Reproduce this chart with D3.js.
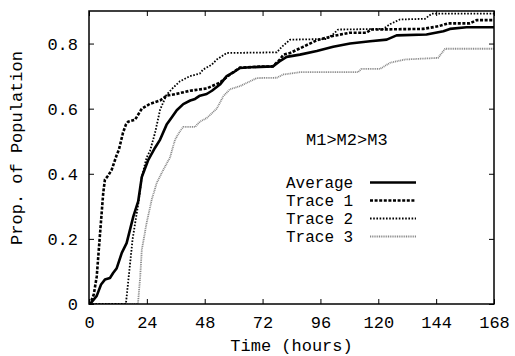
<!DOCTYPE html>
<html>
<head>
<meta charset="utf-8">
<script src="https://cdn.jsdelivr.net/npm/d3@7"></script>
<style>
  html, body { margin: 0; padding: 0; background: #fff; }
  svg text { font-family: "Liberation Mono", "Courier New", monospace; font-size: 17px; fill: #000; }
</style>
</head>
<body>
<svg id="chart" width="515" height="356"></svg>
<script>
// ---- Data (hours, proportion) ----
const xTicks = [0, 24, 48, 72, 96, 120, 144, 168];
const yTicks = [0, 0.2, 0.4, 0.6, 0.8];
const yTickLabels = ["0", "0.2", "0.4", "0.6", "0.8"];
const seriesNames = ["Average", "Trace 1", "Trace 2", "Trace 3"];
const annotation = "M1>M2>M3";

const averageData = [[0,0],[1,0.005],[3.2,0.025],[5,0.06],[6.6,0.075],[8.7,0.08],[10,0.095],[11.5,0.11],[13.6,0.157],[15.6,0.187],[18.4,0.269],[20.4,0.315],[21.9,0.39],[24.6,0.443],[27.4,0.48],[29.5,0.505],[32.2,0.551],[34,0.57],[36.4,0.595],[39.1,0.614],[42,0.625],[44,0.63],[46,0.64],[48.8,0.645],[51,0.655],[54.3,0.674],[57.1,0.7],[60,0.712],[62.6,0.725],[66.8,0.727],[76.3,0.73],[79,0.745],[82,0.759],[87.5,0.766],[94.5,0.777],[101.3,0.79],[108.3,0.8],[116.6,0.807],[123.5,0.812],[127.6,0.825],[140,0.828],[147,0.838],[149.7,0.845],[156.6,0.85],[168,0.85]];

const trace1Data = [[0,0],[0.5,0],[2,0.03],[3.2,0.084],[4.6,0.218],[5.9,0.341],[6.6,0.382],[8,0.395],[9.4,0.412],[11.5,0.458],[12.4,0.474],[14.1,0.526],[15.3,0.551],[16.2,0.56],[19.1,0.566],[21.9,0.6],[25.3,0.615],[29.5,0.625],[32.2,0.64],[36,0.645],[41.9,0.655],[48.8,0.662],[54.3,0.68],[58.5,0.705],[62.6,0.726],[70.9,0.729],[76.3,0.73],[79.2,0.751],[80.6,0.766],[83.4,0.771],[88.8,0.79],[94.5,0.81],[101,0.823],[108,0.833],[115,0.833],[117,0.843],[138.6,0.845],[144.9,0.853],[149,0.862],[158,0.862],[160.8,0.872],[168,0.872]];

const trace2Data = [[0,0],[15.3,0],[16.7,0.1],[18.1,0.2],[19.5,0.265],[20.5,0.31],[21.9,0.39],[23.9,0.45],[25.3,0.47],[27.4,0.526],[29.5,0.597],[32.2,0.643],[35,0.665],[37.7,0.684],[41.9,0.7],[46,0.708],[47.3,0.72],[50.9,0.735],[53,0.751],[57.1,0.771],[77.9,0.773],[80,0.79],[83.4,0.812],[98.6,0.814],[101.2,0.828],[103.3,0.843],[122,0.845],[125,0.86],[129,0.874],[139.4,0.876],[142.2,0.892],[168,0.892]];

const trace3Data = [[0,0],[20.3,0],[21.2,0.08],[21.9,0.166],[23.9,0.249],[26,0.32],[28.1,0.372],[30.8,0.412],[33.6,0.45],[35.7,0.505],[37.7,0.53],[39.1,0.544],[44,0.544],[46,0.56],[48.8,0.571],[53,0.6],[55.7,0.638],[58.5,0.66],[62.6,0.669],[66.8,0.684],[69.6,0.694],[77.9,0.695],[80.6,0.705],[87.5,0.712],[111.6,0.712],[113,0.722],[120.7,0.722],[124.9,0.741],[131,0.751],[144.8,0.756],[147.7,0.784],[168,0.784]];

// ---- Layout ----
const svg = d3.select("#chart");
const m = { left: 89, right: 494, top: 11, bottom: 304 };
const x = d3.scaleLinear().domain([0, 168]).range([m.left, m.right]);
const y = d3.scaleLinear().domain([0, 0.9]).range([m.bottom, m.top]);

const styles = [
  { stroke: "#000", width: 2.6, dash: null },
  { stroke: "#000", width: 2.6, dash: "3,1.6" },
  { stroke: "#000", width: 1.8, dash: "1.6,1.6" },
  { stroke: "#888", width: 1.8, dash: "1,0.8" }
];
const allData = [averageData, trace1Data, trace2Data, trace3Data];

svg.append("clipPath").attr("id", "clip").append("rect")
  .attr("x", m.left).attr("y", m.top).attr("width", m.right - m.left).attr("height", m.bottom - m.top);

const line = d3.line().x(d => x(d[0])).y(d => y(d[1]));

// draw in reverse so average is on top
[3, 2, 1, 0].forEach(i => {
  const s = styles[i];
  svg.append("path").datum(allData[i])
    .attr("clip-path", "url(#clip)")
    .attr("fill", "none")
    .attr("stroke", s.stroke)
    .attr("stroke-width", s.width)
    .attr("stroke-dasharray", s.dash)
    .attr("stroke-linejoin", "round")
    .attr("d", line);
});

// ---- Axes (ticks inside, mirrored) ----
const tickLen = 5;
const bottomAxis = d3.axisBottom(x).tickValues(xTicks).tickSizeInner(-tickLen).tickSizeOuter(0);
const gB = svg.append("g").attr("transform", `translate(0,${m.bottom})`).call(bottomAxis);
const topAxis = d3.axisTop(x).tickValues(xTicks).tickSizeInner(-tickLen).tickSizeOuter(0).tickFormat("");
const gT = svg.append("g").attr("transform", `translate(0,${m.top})`).call(topAxis);
const leftAxis = d3.axisLeft(y).tickValues(yTicks).tickSizeInner(-tickLen).tickSizeOuter(0)
  .tickPadding(11).tickFormat((d, i) => yTickLabels[i]);
const gL = svg.append("g").attr("transform", `translate(${m.left},0)`).call(leftAxis);
const rightAxis = d3.axisRight(y).tickValues(yTicks).tickSizeInner(-tickLen).tickSizeOuter(0).tickFormat("");
const gR = svg.append("g").attr("transform", `translate(${m.right},0)`).call(rightAxis);

[gB, gT, gL, gR].forEach(g => {
  g.select(".domain").remove();
  g.selectAll(".tick line").attr("stroke", "#000").attr("stroke-width", 1);
  g.selectAll("text").attr("font-family", null).attr("font-size", null);
});
gB.selectAll(".tick text").attr("dy", null).attr("y", 24);

// frame
svg.append("rect")
  .attr("x", m.left).attr("y", m.top)
  .attr("width", m.right - m.left).attr("height", m.bottom - m.top)
  .attr("fill", "none").attr("stroke", "#000").attr("stroke-width", 1.5);

// axis titles
svg.append("text").attr("x", (m.left + m.right) / 2).attr("y", 351)
  .attr("text-anchor", "middle").text("Time (hours)");
svg.append("text").attr("transform", "translate(22,148) rotate(-90)")
  .attr("text-anchor", "middle").text("Prop. of Population");

// annotation
svg.append("text").attr("x", 306).attr("y", 145).text(annotation);

// legend
const legY = [182.5, 200.5, 218.5, 236.5];
seriesNames.forEach((name, i) => {
  svg.append("text").attr("x", 286).attr("y", legY[i] + 5)
    .style("font-size", "16px").text(name);
  const s = styles[i];
  svg.append("line")
    .attr("x1", 370).attr("x2", 416).attr("y1", legY[i]).attr("y2", legY[i])
    .attr("stroke", s.stroke).attr("stroke-width", s.width)
    .attr("stroke-dasharray", s.dash);
});
</script>
</body>
</html>
